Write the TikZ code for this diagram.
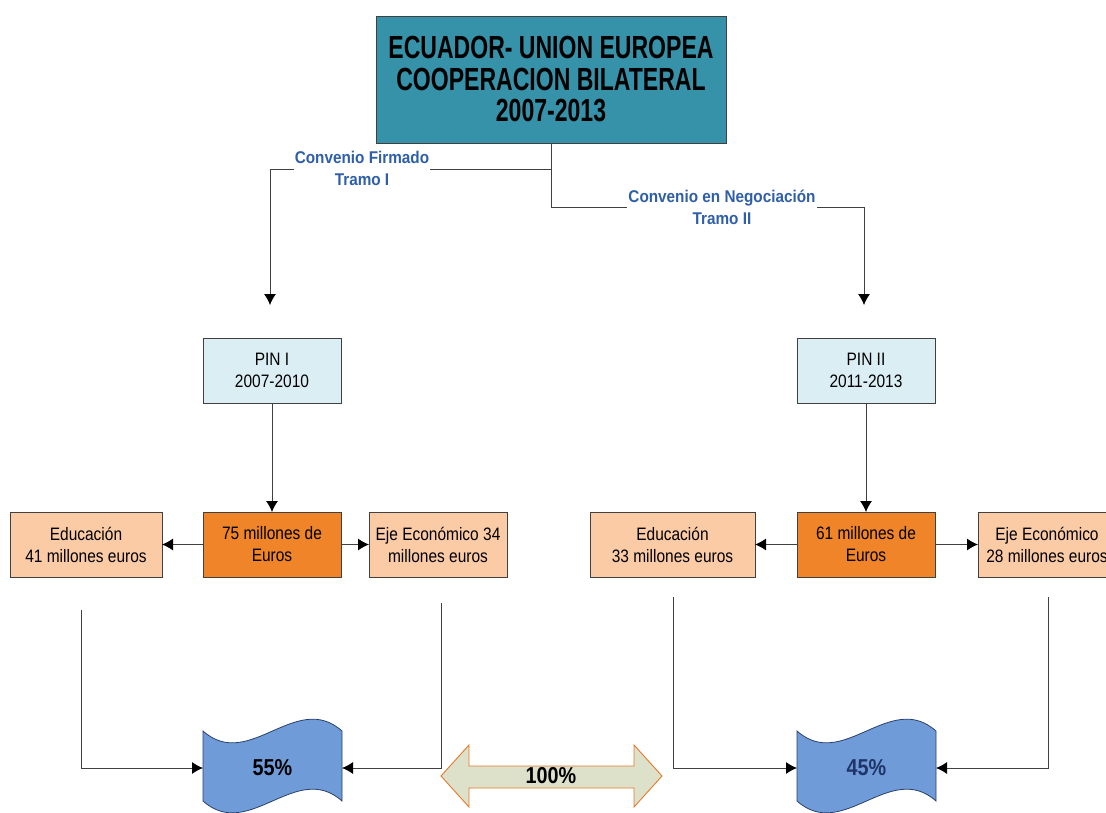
\documentclass[tikz,border=0pt]{standalone}
\usepackage{fontspec}
\setmainfont{Liberation Sans}[FakeStretch=0.86]
\newfontfamily\titlefont{Liberation Sans}[FakeStretch=0.72]
\newfontfamily\labfont{Liberation Sans}[FakeStretch=0.9]
\usetikzlibrary{arrows.meta}
\definecolor{tealbox}{HTML}{3592A8}
\definecolor{pinfill}{HTML}{DAEEF3}
\definecolor{orangebox}{HTML}{F08428}
\definecolor{peach}{HTML}{FBCBA6}
\definecolor{wavefill}{HTML}{6F9CD9}
\definecolor{waveline}{HTML}{2A3F6A}
\definecolor{labblue}{HTML}{2F5FA8}
\definecolor{navy}{HTML}{1F3468}
\definecolor{dafill}{HTML}{DDE1CA}
\definecolor{daline}{HTML}{E8782A}
\begin{document}
\begin{tikzpicture}[x=1pt,y=-1pt,
  box/.style={draw=black!75, line width=0.9pt, inner sep=0pt, outer sep=0pt, align=center,
    font=\fontsize{18}{22}\selectfont, text=black, minimum height=65pt},
  conn/.style={draw=black!75, line width=0.9pt},
  arr/.style={-{Latex[length=11pt,width=12pt,color=black]}},
  lab/.style={fill=white, inner sep=1pt, align=center, text=labblue,
    font=\labfont\bfseries\fontsize{17}{22}\selectfont},
  wave/.style={fill=wavefill, draw=waveline, line width=0.8pt},
  pct/.style={inner sep=0pt, outer sep=0pt, minimum width=139pt, minimum height=70pt,
    font=\bfseries\fontsize{23}{26}\selectfont}
]
\useasboundingbox (0,0) rectangle (1106,812);

% title
\node[box, fill=tealbox, minimum width=350pt, minimum height=127pt,
  font=\titlefont\bfseries\fontsize{32}{31.5}\selectfont] (title) at (551,79.5)
  {ECUADOR- UNION EUROPEA\\COOPERACION BILATERAL\\2007-2013};

% PIN boxes
\node[box, fill=pinfill, minimum width=138pt] (pin1) at (272,370.5) {PIN I\\2007-2010};
\node[box, fill=pinfill, minimum width=138pt] (pin2) at (866,370.5) {PIN II\\2011-2013};

% amount boxes
\node[box, fill=orangebox, minimum width=138pt] (m75) at (272,544.5) {75 millones de\\Euros};
\node[box, fill=orangebox, minimum width=138pt] (m61) at (866,544.5) {61 millones de\\Euros};
\node[box, fill=peach, minimum width=152pt] (ed1) at (86,544.5) {Educación\\41 millones euros};
\node[box, fill=peach, minimum width=138pt] (ej1) at (438,544.5) {Eje Económico 34\\millones euros};
\node[box, fill=peach, minimum width=165pt] (ed2) at (672.5,544.5) {Educación\\33 millones euros};
\node[box, fill=peach, minimum width=138pt] (ej2) at (1047,544.5) {Eje Económico\\28 millones euros};

% top connectors
\coordinate (jl) at (551,169);
\coordinate (jr) at (551,207);
\coordinate (la) at (270,305);
\coordinate (ra) at (864,305);
\draw[conn] (title.south) -- (jr);
\draw[conn, arr] (jl) -| (la);
\draw[conn, arr] (jr) -| (ra);
\node[lab] (l1) at (362,168) {Convenio Firmado\\Tramo I};
\node[lab] (l2) at (722,207) {Convenio en Negociación\\Tramo II};

% PIN to amounts
\draw[conn, arr] (pin1.south) -- (m75.north);
\draw[conn, arr] (pin2.south) -- (m61.north);
\draw[conn, arr] (m75.west) -- (ed1.east);
\draw[conn, arr] (m75.east) -- (ej1.west);
\draw[conn, arr] (m61.west) -- (ed2.east);
\draw[conn, arr] (m61.east) -- (ej2.west);

% waves
\path[wave] (203,731) .. controls (249,772) and (296,690) .. (342,731)
  -- (342,801) .. controls (296,760) and (249,842) .. (203,801) -- cycle;
\path[wave] (797,731) .. controls (843,772) and (890,690) .. (936,731)
  -- (936,801) .. controls (890,760) and (843,842) .. (797,801) -- cycle;
\node[pct, text=black] (w55) at (272.5,768) {55\%};
\node[pct, text=navy] (w45) at (866.5,768) {45\%};

% double arrow
\path[fill=dafill, draw=daline, line width=0.9pt]
  (441,776) -- (469,745) -- (469,766) -- (634,766) -- (634,745) -- (662,776)
  -- (634,807) -- (634,788) -- (469,788) -- (469,807) -- cycle;
\node[inner sep=0pt, font=\bfseries\fontsize{23}{26}\selectfont] (total) at (551,776) {100\%};

% bottom connectors
\coordinate (s1) at (81,610);
\coordinate (s2) at (441,603);
\coordinate (s3) at (673,597);
\coordinate (s4) at (1048,597);
\draw[conn, arr] (s1) |- (w55.west);
\draw[conn, arr] (s2) |- (w55.east);
\draw[conn, arr] (s3) |- (w45.west);
\draw[conn, arr] (s4) |- (w45.east);
\end{tikzpicture}
\end{document}
